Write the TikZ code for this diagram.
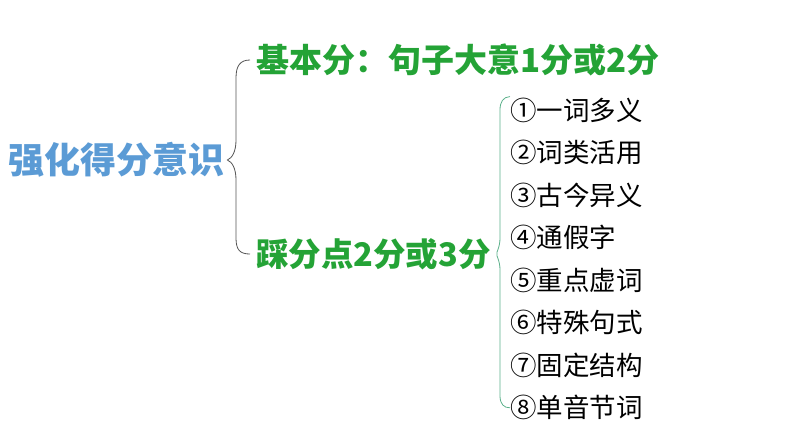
\documentclass[tikz,border=0pt]{standalone}
\usepackage{fontspec}
\setmainfont{Noto Sans CJK SC}
\usetikzlibrary{positioning}
\definecolor{titleblue}{HTML}{5B9BD5}
\definecolor{pointgreen}{HTML}{24A336}
\definecolor{bracegray}{HTML}{555555}
\definecolor{braceteal}{HTML}{5BB08A}

\begin{document}
\begin{tikzpicture}[x=1pt, y=-1pt, node distance=15.64pt,
  title/.style={font=\fontsize{36}{36}\selectfont\bfseries, text=titleblue,
    inner sep=0pt, inner xsep=3pt, text height=31.7pt, text depth=4.3pt, anchor=west},
  branch/.style={font=\bfseries, text=pointgreen, inner sep=0pt, inner xsep=6pt, anchor=west},
  item/.style={font=\fontsize{26.5}{26.5}\selectfont, inner sep=0pt,
    text height=23.3pt, text depth=3.2pt},
  brace/.style={line width=0.8pt}]
\useasboundingbox (0,0) rectangle (794,447);
		\node (main) [title] at (5,160) {强化得分意识};
		\node (basic) [branch, font=\fontsize{33}{33}\selectfont\bfseries,
		  text height=29pt, text depth=4pt] at (250,60) {基本分：句子大意1分或2分};
		\node (score) [branch, font=\fontsize{32.5}{32.5}\selectfont\bfseries,
		  text height=28.6pt, text depth=3.9pt] at (250,254) {踩分点2分或3分};
		\node (i1) [item, anchor=west] at (510,110) {①一词多义};
		\node (i2) [item, below=of i1.south west, anchor=north west] {②词类活用};
		\node (i3) [item, below=of i2.south west, anchor=north west] {③古今异义};
		\node (i4) [item, below=of i3.south west, anchor=north west] {④通假字};
		\node (i5) [item, below=of i4.south west, anchor=north west] {⑤重点虚词};
		\node (i6) [item, below=of i5.south west, anchor=north west] {⑥特殊句式};
		\node (i7) [item, below=of i6.south west, anchor=north west] {⑦固定结构};
		\node (i8) [item, below=of i7.south west, anchor=north west] {⑧单音节词};
		% left brace
		\draw[brace, bracegray] (basic.west) .. controls (240,60) and (236,66) .. (236,78)
		  -- (236,140) .. controls (236,152) and (232,158) .. (main.east)
		  .. controls (232,162) and (236,168) .. (236,180)
		  -- (236,238) .. controls (236,250) and (240,254) .. (score.west);
		% right brace
		\draw[brace, braceteal] (i1.north west) .. controls (503,97) and (500,102) .. (500,110)
		  -- (500,238) .. controls (500,248) and (496,252) .. (score.east)
		  .. controls (496,256) and (500,260) .. (500,270)
		  -- (500,396) .. controls (500,404) and (504,408) .. (i8.west);
\end{tikzpicture}
\end{document}
